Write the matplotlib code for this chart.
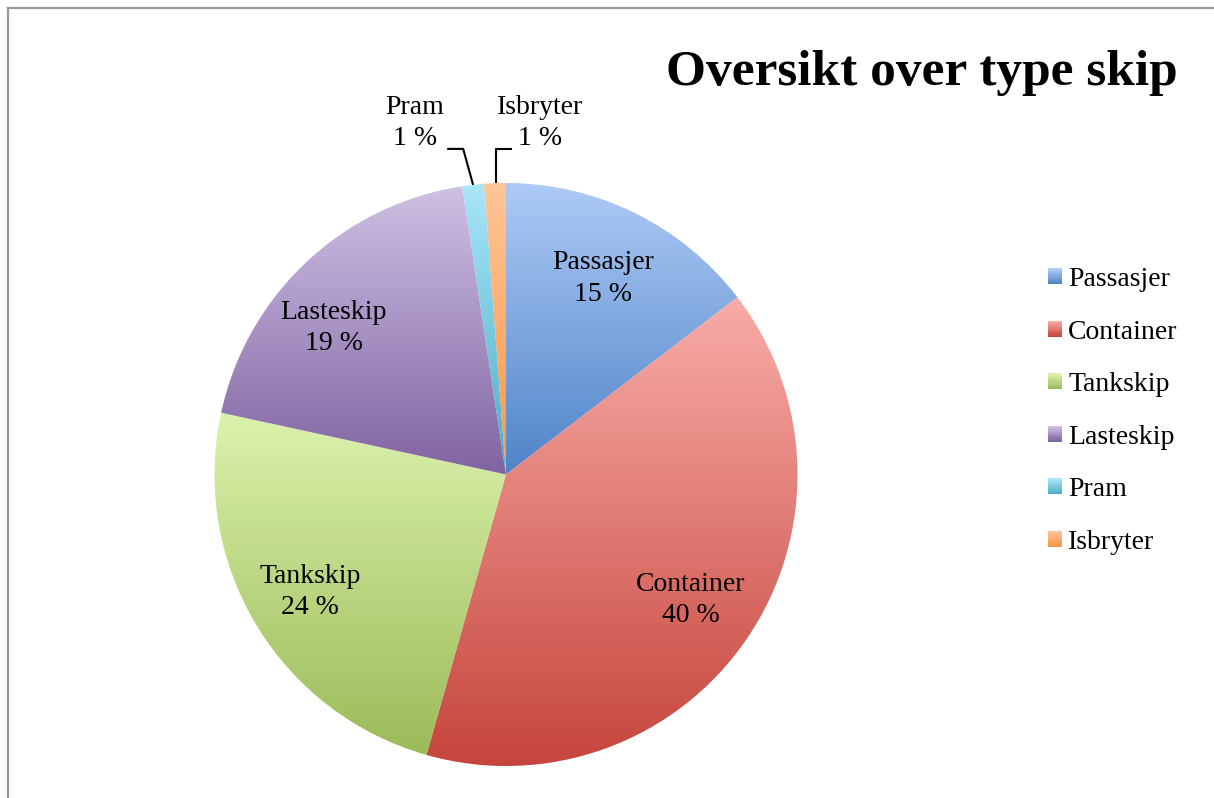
import numpy as np
import matplotlib
matplotlib.use("Agg")
import matplotlib.pyplot as plt
from matplotlib.colors import to_rgb
from matplotlib.patches import Rectangle
from matplotlib.lines import Line2D
from matplotlib.legend_handler import HandlerBase

# data
categories = ["Passasjer", "Container", "Tankskip", "Lasteskip", "Pram", "Isbryter"]
values = [14.6, 39.8, 24.0, 19.2, 1.2, 1.2]
title = "Oversikt over type skip"

top_colors = ["#aecaf6", "#f9aca8", "#dbf2ac", "#cfc0e4", "#a9e6f8", "#ffc597"]
bottom_colors = ["#4f84c8", "#c5443b", "#9bbb59", "#8064a2", "#4bacc6", "#f79646"]

FONT = "Liberation Serif"
FS = 20


def blend(c_bot, c_top, n):
    g = np.linspace(0, 1, n)[:, None]
    return np.array(to_rgb(c_bot)) * (1 - g) + np.array(to_rgb(c_top)) * g


class GradientSquare(HandlerBase):
    def __init__(self, c_top, c_bot):
        super().__init__()
        self.c_top = c_top
        self.c_bot = c_bot

    def create_artists(self, legend, orig_handle, xdescent, ydescent,
                       width, height, fontsize, trans):
        n = 14
        cols = blend(self.c_bot, self.c_top, n)
        arts = []
        for i in range(n):
            r = Rectangle((-xdescent, -ydescent + height * i / n), width, height / n + 0.3,
                          facecolor=cols[i], edgecolor="none", transform=trans)
            arts.append(r)
        return arts


fig = plt.figure(figsize=(12.14, 7.98), dpi=100)
ax = fig.add_axes([0, 0, 1, 1])

wedges, _ = ax.pie(values, startangle=90, counterclock=False, radius=1,
                   center=(0, 0), wedgeprops=dict(linewidth=0))

# gradient fill per wedge, light at top -> darker at bottom
for w, ct, cb in zip(wedges, top_colors, bottom_colors):
    v = w.get_path().vertices
    xmin, xmax = v[:, 0].min(), v[:, 0].max()
    ymin, ymax = v[:, 1].min(), v[:, 1].max()
    img = blend(cb, ct, 256)[:, None, :]
    im = ax.imshow(img, extent=[xmin, xmax, ymin, ymax], origin="lower",
                   aspect="auto", interpolation="bilinear", zorder=1)
    im.set_clip_path(w)
    w.set_facecolor("none")

total = sum(values)
pcts = [round(v / total * 100) for v in values]

# labels inside the big slices (best-fit like placement)
label_dist = [0.75, 0.765, 0.785, 0.776]
label_shift = [0, 0, 0, 6.4]
for i in range(4):
    w = wedges[i]
    a = np.deg2rad((w.theta1 + w.theta2) / 2 + label_shift[i])
    ax.text(label_dist[i] * np.cos(a), label_dist[i] * np.sin(a),
            f"{categories[i]}\n{pcts[i]} %", ha="center", va="center",
            fontsize=FS, family=FONT, linespacing=1.32, zorder=3)

# small slices: labels outside with leader lines
elbow_y = 1.117
for i, side in [(4, -1), (5, 1)]:
    w = wedges[i]
    a = np.deg2rad((w.theta1 + w.theta2) / 2)
    px, py = np.cos(a), np.sin(a)
    if side < 0:
        ex = px - 0.034
        xs = [px, ex, ex - 0.055]
        ys = [py, elbow_y, elbow_y]
        tx = ex - 0.055 - 0.11
    else:
        ex = px + 0.004
        xs = [ex, ex, ex + 0.055]
        ys = [py, elbow_y, elbow_y]
        tx = ex + 0.055 + 0.096
    ax.plot(xs, ys, color="black", lw=1.5, zorder=3, solid_capstyle="butt")
    ax.text(tx, elbow_y + 0.089, f"{categories[i]}\n{pcts[i]} %", ha="center",
            va="center", fontsize=FS, family=FONT, linespacing=1.32, zorder=3)

ax.set_xlim(-506 / 291.5, (1214 - 506) / 291.5)
ax.set_ylim(-323.5 / 291.5, (798 - 323.5) / 291.5)
ax.set_aspect("auto")
ax.axis("off")

# title
fig.text(0.9703, 0.8935, title, ha="right", va="baseline", fontsize=37,
         fontweight="bold", family=FONT)

# legend
handles = [Rectangle((0, 0), 1, 1) for _ in categories]
hmap = {h: GradientSquare(ct, cb) for h, ct, cb in zip(handles, top_colors, bottom_colors)}
fig.legend(handles, categories, loc="upper left", bbox_to_anchor=(0.8633, 0.665),
           frameon=False, prop=dict(family=FONT, size=FS), handlelength=0.5,
           handleheight=0.5, handletextpad=0.22, labelspacing=0.99,
           borderpad=0, borderaxespad=0, handler_map=hmap)

# chart border (top and left visible)
fig.add_artist(Line2D([8 / 1214, 1], [1 - 8 / 798, 1 - 8 / 798], color="#999999", lw=1.6,
                      transform=fig.transFigure))
fig.add_artist(Line2D([8 / 1214, 8 / 1214], [0, 1 - 8 / 798], color="#999999", lw=1.6,
                      transform=fig.transFigure))

fig.savefig("out.png", dpi=100)
